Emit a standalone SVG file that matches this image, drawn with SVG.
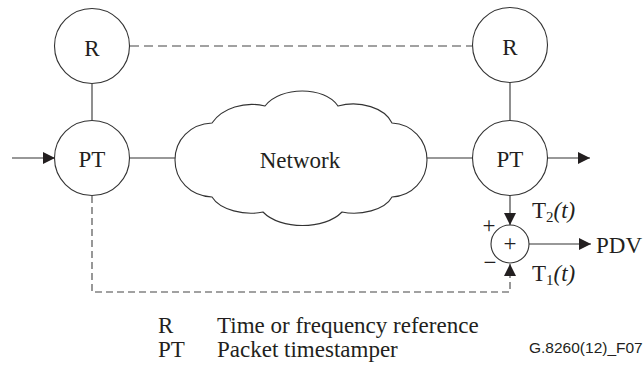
<svg xmlns="http://www.w3.org/2000/svg" width="644" height="367" viewBox="0 0 644 367">
<style>
.ln{stroke:#333;stroke-width:1.1;fill:none}
.dash{stroke:#444;stroke-width:1.1;fill:none;stroke-dasharray:9 5}
.dash2{stroke:#444;stroke-width:1.1;fill:none;stroke-dasharray:7 4}
.nd{stroke:#333;stroke-width:1.1;fill:#fff}
.t{font-family:"Liberation Serif","Times New Roman",serif;font-size:23px;fill:#231f20}
.s{font-family:"Liberation Sans",Arial,sans-serif;font-size:15.5px;fill:#231f20}
</style>
<defs>
<marker id="ah" markerUnits="userSpaceOnUse" markerWidth="14" markerHeight="14" refX="12" refY="6" orient="auto">
<path d="M0,0 L12,6 L0,12 Z" fill="#231f20"/>
</marker>
</defs>
<g id="connectors">
<line class="dash" x1="130" y1="46" x2="472" y2="46"/>
<line class="ln" x1="92" y1="84" x2="92" y2="120"/>
<line class="ln" x1="510" y1="83" x2="510" y2="121"/>
<line class="ln" x1="12" y1="158" x2="55" y2="158" marker-end="url(#ah)"/>
<line class="ln" x1="130" y1="158" x2="175" y2="158"/>
<line class="ln" x1="427" y1="158" x2="472" y2="158"/>
<line class="ln" x1="548" y1="158" x2="590" y2="158" marker-end="url(#ah)"/>
<line class="ln" x1="510" y1="196" x2="510" y2="225" marker-end="url(#ah)"/>
<path class="dash2" d="M92,196 V292 H510 V264" marker-end="url(#ah)"/>
<line class="ln" x1="529" y1="244" x2="591" y2="244" marker-end="url(#ah)"/>
</g>
<g id="R1">
<circle class="nd" cx="92" cy="46" r="37.5"/>
<text class="t" x="92" y="56" text-anchor="middle">R</text>
</g>
<g id="R2">
<circle class="nd" cx="510" cy="45" r="37.5"/>
<text class="t" x="510" y="55" text-anchor="middle">R</text>
</g>
<g id="PT1">
<circle class="nd" cx="92" cy="158" r="37.5"/>
<text class="t" x="92" y="167" text-anchor="middle">PT</text>
</g>
<g id="PT2">
<circle class="nd" cx="510" cy="158" r="37.5"/>
<text class="t" x="510" y="167" text-anchor="middle">PT</text>
</g>
<g id="network">
<path class="nd" d="M212,123 C222,108 245,101 265,106 C280,86 325,86 338,106 C360,100 385,108 392,123 C412,124 427,140 427,160 C427,180 412,196 392,197 C385,210 360,216 342,212 C325,230 280,230 263,212 C245,216 220,210 212,197 C190,196 175,180 175,160 C175,140 190,124 212,123 Z"/>
<text class="t" x="300" y="168" text-anchor="middle">Network</text>
</g>
<g id="sum">
<circle class="nd" cx="510" cy="244" r="19"/>
<text class="t" x="510" y="251" text-anchor="middle" font-size="19">+</text>
<text class="t" x="489" y="233" text-anchor="middle" font-size="21">+</text>
<text class="t" x="490" y="270" text-anchor="middle" font-size="21">−</text>
</g>
<g id="labels">
<text class="t" x="532" y="218">T<tspan font-size="15" dy="4">2</tspan><tspan font-style="italic" dy="-4">(t)</tspan></text>
<text class="t" x="532" y="281">T<tspan font-size="15" dy="4">1</tspan><tspan font-style="italic" dy="-4">(t)</tspan></text>
<text class="t" x="596" y="253">PDV</text>
</g>
<g id="legend">
<text class="t" x="158" y="333">R</text>
<text class="t" x="217" y="333">Time or frequency reference</text>
<text class="t" x="158" y="357">PT</text>
<text class="t" x="217" y="357">Packet timestamper</text>
<text class="s" x="529" y="353">G.8260(12)_F07</text>
</g>
</svg>
